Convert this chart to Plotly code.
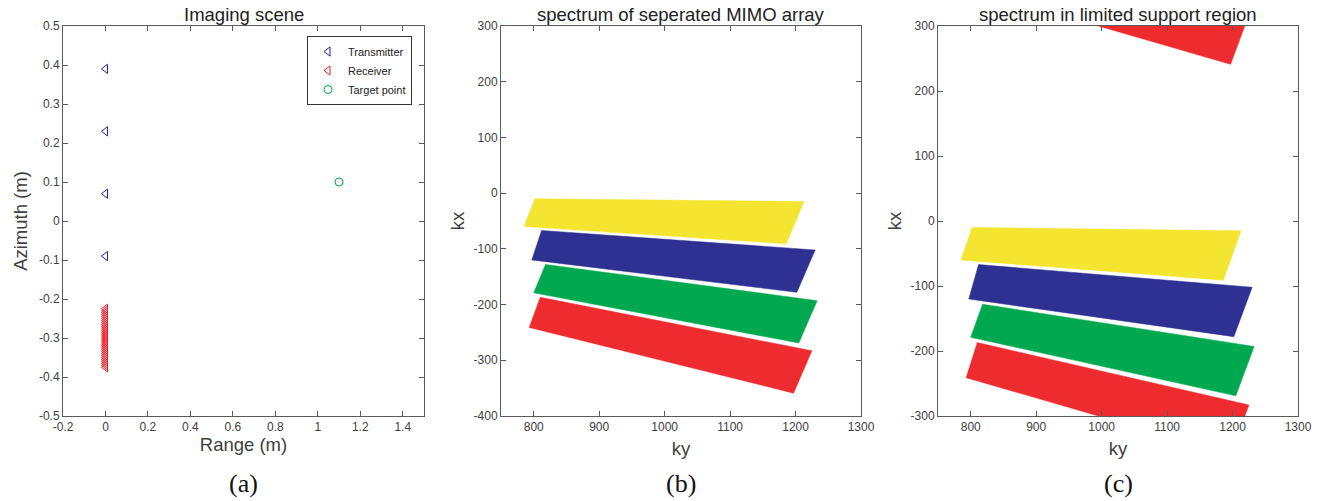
import plotly.graph_objects as go

# ---------------- data ----------------
# (a) imaging scene
tx_range = [0, 0, 0, 0]
tx_azimuth = [0.39, 0.23, 0.07, -0.09]
rx_range = [0]*31
rx_azimuth = [-0.225, -0.230, -0.235, -0.240, -0.245, -0.250, -0.255, -0.260,
              -0.265, -0.270, -0.275, -0.280, -0.285, -0.290, -0.295, -0.300,
              -0.305, -0.310, -0.315, -0.320, -0.325, -0.330, -0.335, -0.340,
              -0.345, -0.350, -0.355, -0.360, -0.365, -0.370, -0.375]
target_range = [1.1]
target_azimuth = [0.1]

# (b)/(c) spectrum bands: corner points (ky, kx)
yellow_ky = [802, 1213, 1186, 785]
yellow_kx = [-10, -15, -91, -60]
blue_ky = [812, 1230, 1202, 797]
blue_kx = [-67, -102, -178, -120]
green_ky = [818, 1233, 1205, 800]
green_kx = [-128, -193, -269, -179]
red_ky = [810, 1225, 1197, 793]
red_kx = [-187, -283, -359, -241]
kx_period = 600  # spectrum wraps in the limited support region

# tick labels
a_xticks = [-0.2, 0, 0.2, 0.4, 0.6, 0.8, 1.0, 1.2, 1.4]
a_xtext = ["-0.2", "0", "0.2", "0.4", "0.6", "0.8", "1", "1.2", "1.4"]
a_yticks = [-0.5, -0.4, -0.3, -0.2, -0.1, 0, 0.1, 0.2, 0.3, 0.4, 0.5]
a_ytext = ["-0.5", "-0.4", "-0.3", "-0.2", "-0.1", "0", "0.1", "0.2", "0.3", "0.4", "0.5"]
k_xticks = [800, 900, 1000, 1100, 1200, 1300]
b_yticks = [-400, -300, -200, -100, 0, 100, 200, 300]
c_yticks = [-300, -200, -100, 0, 100, 200, 300]

titles = ["Imaging scene", "spectrum of seperated MIMO array", "spectrum in limited support region"]
panel_labels = ["(a)", "(b)", "(c)"]

# ---------------- styling ----------------
W, H = 1337, 501
ML, MR, MT, MB = 63, 1337 - 1298, 26, 501 - 416
PW, PH = W - ML - MR, H - MT - MB
FONT = "Liberation Sans, Arial, sans-serif"
AX = "#5a5a5a"
TXT = "#404040"
YEL, BLU, GRN, RED = "#f4e530", "#2e3192", "#00a94f", "#ee2b2f"


def px_x(px):
    return (px - ML) / PW


def px_y(py):
    return (H - py - MB) / PH


doms = [(63, 424), (501, 861), (938, 1298)]
xd = [[max(0.0, px_x(a)), min(1.0, px_x(b))] for a, b in doms]
yd = [0, 1]

fig = go.Figure()

# (a)
fig.add_trace(go.Scatter(x=tx_range, y=tx_azimuth, mode="markers", name="Transmitter",
                         marker=dict(symbol="triangle-left-open", size=8, color="#1f1fb4", line=dict(width=1)),
                         xaxis="x", yaxis="y"))
fig.add_trace(go.Scatter(x=rx_range, y=rx_azimuth, mode="markers", name="Receiver",
                         marker=dict(symbol="triangle-left-open", size=8, color="#ee1c24", line=dict(width=1)),
                         xaxis="x", yaxis="y"))
fig.add_trace(go.Scatter(x=target_range, y=target_azimuth, mode="markers", name="Target point",
                         marker=dict(symbol="circle-open", size=8, color="#00a651", line=dict(width=1)),
                         xaxis="x", yaxis="y"))

bands = [(yellow_ky, yellow_kx, YEL), (blue_ky, blue_kx, BLU),
         (green_ky, green_kx, GRN), (red_ky, red_kx, RED)]


def add_band(ky, kx, col, xa, ya):
    fig.add_trace(go.Scatter(x=ky + [ky[0]], y=kx + [kx[0]], mode="lines", fill="toself",
                             fillcolor=col, line=dict(color=col, width=0.5),
                             showlegend=False, hoverinfo="skip", xaxis=xa, yaxis=ya))


for ky, kx, col in bands:
    add_band(ky, kx, col, "x2", "y2")
for ky, kx, col in bands:
    add_band(ky, kx, col, "x3", "y3")
# wrapped copy of the lowest band
add_band(red_ky, [v + kx_period for v in red_kx], RED, "x3", "y3")


def axis_common():
    return dict(showline=True, linecolor=AX, linewidth=1, mirror="ticks", ticks="inside",
                ticklen=5, tickcolor=AX, showgrid=False, zeroline=False, automargin=False,
                tickfont=dict(family=FONT, size=12, color=TXT),
                title_font=dict(family=FONT, size=18.5, color=TXT))


layout = dict(width=W, height=H, margin=dict(l=ML, r=MR, t=MT, b=MB, autoexpand=False),
              plot_bgcolor="white", paper_bgcolor="white",
              font=dict(family=FONT, color=TXT),
              legend=dict(x=px_x(412), y=px_y(36), xanchor="right", yanchor="top",
                          bgcolor="white", bordercolor="#333333", borderwidth=1,
                          font=dict(family=FONT, size=11, color="#222222"),
                          itemwidth=30, tracegroupgap=0))

layout["xaxis"] = dict(axis_common(), domain=xd[0], range=[-0.2, 1.5], tickvals=a_xticks, ticktext=a_xtext,
                       title=dict(text="Range (m)", standoff=4), anchor="y")
layout["yaxis"] = dict(axis_common(), domain=yd, range=[-0.5, 0.5], tickvals=a_yticks, ticktext=a_ytext,
                       title=dict(text="Azimuth (m)", standoff=6), anchor="x")
layout["xaxis2"] = dict(axis_common(), domain=xd[1], range=[750, 1300], tickvals=k_xticks,
                        title=dict(text="ky", standoff=8), anchor="y2")
layout["yaxis2"] = dict(axis_common(), domain=yd, range=[-400, 300], tickvals=b_yticks,
                        ticktext=[str(v) for v in b_yticks],
                        title=dict(text="kx", standoff=4), anchor="x2")
layout["xaxis3"] = dict(axis_common(), domain=xd[2], range=[750, 1300], tickvals=k_xticks,
                        title=dict(text="ky", standoff=8), anchor="y3")
layout["yaxis3"] = dict(axis_common(), domain=yd, range=[-300, 300], tickvals=c_yticks,
                        ticktext=[str(v) for v in c_yticks],
                        title=dict(text="kx", standoff=4), anchor="x3")

ann = []
for i in range(3):
    cx = (xd[i][0] + xd[i][1]) / 2
    ann.append(dict(text=titles[i], x=cx, y=px_y(14), xref="paper", yref="paper",
                    xanchor="center", yanchor="middle", showarrow=False,
                    font=dict(family=FONT, size=18.5, color="#222222")))
    ann.append(dict(text=panel_labels[i], x=cx, y=px_y(483), xref="paper", yref="paper",
                    xanchor="center", yanchor="middle", showarrow=False,
                    font=dict(family="Liberation Serif, Times New Roman, serif", size=26, color="#111111")))
layout["annotations"] = ann

fig.update_layout(**layout)
fig.write_html("out.html", config={"displayModeBar": False},
               post_script="document.body.style.margin='0';document.body.style.overflow='hidden';")
